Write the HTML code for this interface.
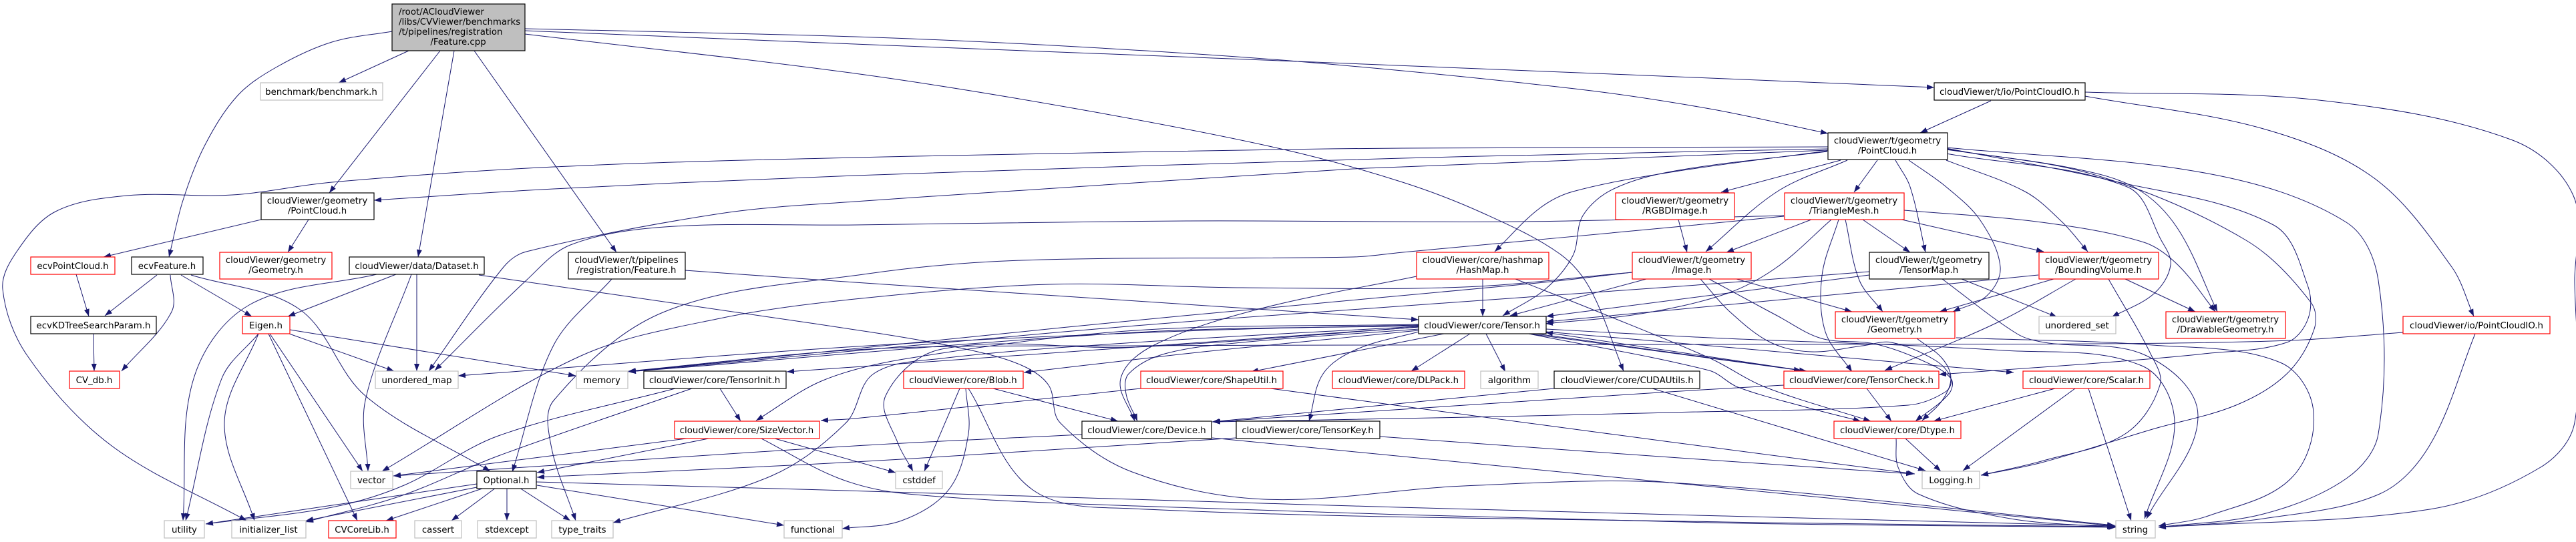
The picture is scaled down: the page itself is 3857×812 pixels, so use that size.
<!DOCTYPE html>
<html><head><meta charset="utf-8"><style>
html,body{margin:0;padding:0;background:#fff}
svg{display:block}
text{font-family:"DejaVu Sans",sans-serif;font-size:13.33px;fill:#000;text-anchor:middle}
rect{fill:#fff;stroke-width:1.2}
.k{stroke:#000}.r{stroke:#f00}.g{stroke:#bfbfbf}
</style></head><body>
<svg xmlns="http://www.w3.org/2000/svg" width="3857" height="812" viewBox="0 0 3857 812">
<defs><marker id="a" markerUnits="userSpaceOnUse" markerWidth="13" markerHeight="10" refX="11" refY="4" orient="auto"><path d="M0,0L11,4L0,8z" fill="#191970"/></marker></defs>
<g id="edges" fill="none" stroke="#191970" stroke-width="1" marker-end="url(#a)">
<polyline points="587,47 497,63 415,100 356,143 307,217 274,300 253,385"/>
<polyline points="612,76 507,124"/>
<polyline points="659,76 493,289"/>
<polyline points="680,76 626,385"/>
<polyline points="710,76 923,378"/>
<polyline points="786,43 1280,55 1612,70 1943,92 2358,133 2560,163 2737,200"/>
<polyline points="786,46 1280,66 1943,92 2560,117 2896,131"/>
<polyline points="786,51 1280,110 1612,163 1918,223 2100,273 2222,320 2335,380 2381,433 2431,556"/>
<polyline points="391,329 155,385"/>
<polyline points="462,329 431,378"/>
<polyline points="2737,220 2100,222 1918,224 1280,236 829,250 497,273 348,292 190,293 83,317 25,377 4,433 41,533 166,667 369,780"/>
<polyline points="2737,223 2100,237 1280,263 829,283 560,300"/>
<polyline points="2737,225 2100,250 2026,253 1280,302 1078,320 788,377 754,400 642,556"/>
<polyline points="2671,323 2275,332 1777,331 1280,337 995,340 854,367 788,420 651,555"/>
<polyline points="2671,324 2508,340 2100,378 2026,385 1529,390 1300,410 995,467 829,600 825,667 862,780"/>
<polyline points="2736,226 2508,257 2355,287 2304,313 2238,377"/>
<polyline points="2736,227 2508,256 2416,283 2370,323 2355,383 2314,433 2250,473"/>
<polyline points="2756,240 2577,288"/>
<polyline points="2766,240 2661,287 2554,377"/>
<polyline points="2811,240 2776,288"/>
<polyline points="2838,240 2860,280 2883,378"/>
<polyline points="2858,240 2914,280 2965,330 2995,400 2975,443 2924,467"/>
<polyline points="2914,240 3032,287 3088,333 3126,377"/>
<polyline points="2914,230 3185,280 3236,360 3250,397 3225,440 3162,475"/>
<polyline points="2914,224 3108,253 3200,283 3261,343 3320,467"/>
<polyline points="2914,222 3159,270 3404,337 3455,427 3456,477 3424,513 3300,530 3153,543 2903,561"/>
<polyline points="2914,221 3306,260 3513,333 3561,420 3561,650 3513,717 3389,770 3232,790"/>
<polyline points="2914,223 3140,263 3363,360 3460,453 3465,493 3424,560 3348,607 3223,643 3057,693 2966,712"/>
<polyline points="2712,329 2585,378"/>
<polyline points="2742,329 2661,400 2585,440 2457,470 2314,485"/>
<polyline points="2753,329 2728,413 2733,497 2773,557"/>
<polyline points="2763,329 2784,420 2819,467"/>
<polyline points="2789,329 2860,378"/>
<polyline points="2843,328 3060,377"/>
<polyline points="2851,315 3057,333 3210,363 3261,397 3317,467"/>
<polyline points="2465,418 2261,473"/>
<polyline points="2600,418 2773,467"/>
<polyline points="2546,418 2590,467 2651,513 2712,527 2789,518 2832,513 2898,540 2921,567 2913,587 2857,607 2500,618 2200,625 1816,632"/>
<polyline points="2559,418 2661,473 2727,507 2806,515 2878,540 2921,567 2918,590 2868,631"/>
<polyline points="2443,408 2312,423 1700,480 941,557"/>
<polyline points="2444,408 2192,430 1860,431 1570,426 1280,448 1078,477 870,533 572,706"/>
<polyline points="2799,407 2500,430 1700,488 941,557"/>
<polyline points="2799,412 2315,474"/>
<polyline points="3052,412 2900,427 2315,482"/>
<polyline points="3075,418 2904,467"/>
<polyline points="3108,418 2991,483 2822,555"/>
<polyline points="3182,418 3287,467"/>
<polyline points="3157,418 3220,530 3234,577 3182,650 3060,690 2966,712"/>
<polyline points="2937,418 3080,475"/>
<polyline points="2908,418 3020,500 3061,513 3214,533 3291,623 3214,777"/>
<polyline points="2929,506 3223,517 3414,543 3464,617 3430,717 3306,773 3232,788"/>
<polyline points="2981,151 2875,199"/>
<polyline points="3122,138 3472,150 3762,210 3853,293 3855,420 3855,633 3804,700 3638,763 3232,790"/>
<polyline points="3122,144 3389,193 3555,267 3671,400 3704,474"/>
<polyline points="3706,500 3638,667 3563,740 3389,777 3232,790"/>
<polyline points="3598,498 3430,510 3140,515 2560,516 1700,518 1300,523 941,556"/>
<polyline points="2853,657 2906,706"/>
<polyline points="2839,657 2842,700 2872,740 3010,777 3166,790"/>
<polyline points="2795,582 2832,631"/>
<polyline points="2671,577 2500,587 1815,632"/>
<polyline points="2289,500 2697,555"/>
<polyline points="2300,500 2705,556"/>
<polyline points="2712,557 2314,498"/>
<polyline points="2315,493 2560,506 3000,525 3207,548 3256,633 3211,777"/>
<polyline points="2315,497 2560,518 3015,558"/>
<polyline points="2269,418 2400,470 2561,537 2643,580 2801,631"/>
<polyline points="2289,500 2559,555 2602,580 2704,610 2786,631"/>
<polyline points="2474,582 2883,705"/>
<polyline points="2327,582 1815,632"/>
<polyline points="2220,418 2220,474"/>
<polyline points="3077,582 2895,631"/>
<polyline points="3107,582 2939,705"/>
<polyline points="3127,582 3191,780"/>
<polyline points="2870,507 2908,537 2921,567 2908,600 2878,630"/>
<polyline points="2513,329 2526,378"/>
<polyline points="1620,651 1280,668 589,713"/>
<polyline points="1815,656 2500,723 3166,788"/>
<polyline points="1902,582 2500,662 2867,710"/>
<polyline points="2066,654 2500,685 2865,710"/>
<polyline points="1851,656 1280,692 804,715"/>
<polyline points="1708,582 1280,627 1229,630"/>
<polyline points="1028,657 589,713"/>
<polyline points="1061,657 804,708"/>
<polyline points="1160,657 1341,708"/>
<polyline points="1140,657 1257,717 1359,740 1700,758 2560,783 3168,790"/>
<polyline points="1078,582 1109,631"/>
<polyline points="1036,582 746,683 600,743 458,782"/>
<polyline points="1011,582 746,653 605,727 497,760 308,785"/>
<polyline points="714,725 308,785"/>
<polyline points="714,730 458,780"/>
<polyline points="725,731 578,780"/>
<polyline points="742,731 676,780"/>
<polyline points="759,731 759,780"/>
<polyline points="778,731 854,780"/>
<polyline points="804,727 1174,787"/>
<polyline points="803,722 1300,736 2026,758 2580,773 3168,788"/>
<polyline points="1446,582 1450,650 1421,733 1350,780 1261,792"/>
<polyline points="1437,582 1384,706"/>
<polyline points="1487,582 1674,631"/>
<polyline points="1450,582 1545,733 1695,762 2580,782 3168,789"/>
<polyline points="2124,490 1700,520 1410,523 1326,593 1344,663 1367,706"/>
<polyline points="2124,486 1700,495 1359,537 1232,570 1132,630"/>
<polyline points="2124,489 1700,513 1410,537 1308,560 1267,633 1155,713 918,783"/>
<polyline points="2124,487 1800,495 1300,518 686,563"/>
<polyline points="2124,488 1700,498 941,557"/>
<polyline points="2124,490 1700,520 1178,557"/>
<polyline points="2124,495 1802,527 1533,558"/>
<polyline points="2124,497 2032,523 1981,560 1960,631"/>
<polyline points="2124,493 1860,513 1744,530 1690,560 1686,590 1703,631"/>
<polyline points="2121,414 1885,463 1728,517 1678,567 1699,631"/>
<polyline points="2162,500 1873,557"/>
<polyline points="2201,500 2113,556"/>
<polyline points="2225,500 2254,557"/>
<polyline points="916,418 829,517 767,707"/>
<polyline points="1026,405 1280,423 2124,479"/>
<polyline points="593,411 431,474"/>
<polyline points="624,411 624,556"/>
<polyline points="616,411 547,600 551,706"/>
<polyline points="564,411 373,457 290,567 274,780"/>
<polyline points="717,412 1300,497 1446,523 1529,547 1570,577 1587,633 1695,707 1893,748 2192,728 2500,723 3166,787"/>
<polyline points="235,412 157,473"/>
<polyline points="271,412 377,474"/>
<polyline points="255,412 257,467 182,556"/>
<polyline points="286,412 448,463 547,593 734,706"/>
<polyline points="114,411 133,474"/>
<polyline points="140,500 141,556"/>
<polyline points="433,500 590,556"/>
<polyline points="434,494 862,563"/>
<polyline points="404,500 543,706"/>
<polyline points="402,500 535,780"/>
<polyline points="387,500 332,567 278,780"/>
<polyline points="387,500 336,633 381,780"/>
</g>
<rect class="k" x="587" y="6" width="199" height="70" style="fill:#bfbfbf"/>
<text x="597" y="22" style="text-anchor:start">/root/ACloudViewer</text><text x="597" y="37" style="text-anchor:start">/libs/CVViewer/benchmarks</text><text x="597" y="52" style="text-anchor:start">/t/pipelines/registration</text><text x="686" y="67">/Feature.cpp</text>
<rect class="g" x="390" y="124" width="183" height="26"/><text x="481" y="142">benchmark/benchmark.h</text>
<rect class="k" x="391" y="289" width="169" height="40"/><text x="475" y="305">cloudViewer/geometry</text><text x="475" y="320">/PointCloud.h</text>
<rect class="r" x="46" y="385" width="126" height="26"/><text x="109" y="403">ecvPointCloud.h</text>
<rect class="k" x="197" y="385" width="107" height="26"/><text x="250" y="403">ecvFeature.h</text>
<rect class="r" x="329" y="378" width="168" height="40"/><text x="413" y="394">cloudViewer/geometry</text><text x="413" y="409">/Geometry.h</text>
<rect class="k" x="523" y="385" width="202" height="26"/><text x="624" y="403">cloudViewer/data/Dataset.h</text>
<rect class="k" x="851" y="378" width="175" height="40"/><text x="938" y="394">cloudViewer/t/pipelines</text><text x="938" y="409">/registration/Feature.h</text>
<rect class="r" x="2121" y="378" width="198" height="40"/><text x="2220" y="394">cloudViewer/core/hashmap</text><text x="2220" y="409">/HashMap.h</text>
<rect class="r" x="2419" y="289" width="178" height="40"/><text x="2508" y="305">cloudViewer/t/geometry</text><text x="2508" y="320">/RGBDImage.h</text>
<rect class="r" x="2444" y="378" width="178" height="40"/><text x="2533" y="394">cloudViewer/t/geometry</text><text x="2533" y="409">/Image.h</text>
<rect class="k" x="2896" y="124" width="226" height="26"/><text x="3009" y="142">cloudViewer/t/io/PointCloudIO.h</text>
<rect class="k" x="2737" y="199" width="179" height="40"/><text x="2826" y="215">cloudViewer/t/geometry</text><text x="2826" y="230">/PointCloud.h</text>
<rect class="r" x="2672" y="289" width="179" height="40"/><text x="2761" y="305">cloudViewer/t/geometry</text><text x="2761" y="320">/TriangleMesh.h</text>
<rect class="k" x="2799" y="378" width="179" height="40"/><text x="2888" y="394">cloudViewer/t/geometry</text><text x="2888" y="409">/TensorMap.h</text>
<rect class="r" x="3053" y="378" width="179" height="40"/><text x="3142" y="394">cloudViewer/t/geometry</text><text x="3142" y="409">/BoundingVolume.h</text>
<rect class="r" x="2748" y="467" width="179" height="40"/><text x="2837" y="483">cloudViewer/t/geometry</text><text x="2837" y="498">/Geometry.h</text>
<rect class="g" x="3053" y="474" width="115" height="26"/><text x="3110" y="492">unordered_set</text>
<rect class="r" x="3243" y="467" width="179" height="40"/><text x="3332" y="483">cloudViewer/t/geometry</text><text x="3332" y="498">/DrawableGeometry.h</text>
<rect class="r" x="3598" y="474" width="220" height="26"/><text x="3708" y="492">cloudViewer/io/PointCloudIO.h</text>
<rect class="r" x="2671" y="556" width="232" height="26"/><text x="2787" y="574">cloudViewer/core/TensorCheck.h</text>
<rect class="r" x="3029" y="556" width="190" height="26"/><text x="3124" y="574">cloudViewer/core/Scalar.h</text>
<rect class="r" x="2746" y="631" width="190" height="26"/><text x="2841" y="649">cloudViewer/core/Dtype.h</text>
<rect class="g" x="2878" y="706" width="86" height="26"/><text x="2921" y="724">Logging.h</text>
<rect class="g" x="3168" y="780" width="59" height="26"/><text x="3197" y="798">string</text>
<rect class="k" x="2124" y="474" width="191" height="26"/><text x="2219" y="492">cloudViewer/core/Tensor.h</text>
<rect class="r" x="1353" y="556" width="179" height="26"/><text x="1442" y="574">cloudViewer/core/Blob.h</text>
<rect class="r" x="1708" y="556" width="213" height="26"/><text x="1814" y="574">cloudViewer/core/ShapeUtil.h</text>
<rect class="r" x="1995" y="556" width="198" height="26"/><text x="2094" y="574">cloudViewer/core/DLPack.h</text>
<rect class="g" x="2217" y="556" width="86" height="26"/><text x="2260" y="574">algorithm</text>
<rect class="k" x="2327" y="556" width="218" height="26"/><text x="2436" y="574">cloudViewer/core/CUDAUtils.h</text>
<rect class="k" x="1620" y="631" width="194" height="26"/><text x="1717" y="649">cloudViewer/core/Device.h</text>
<rect class="k" x="1851" y="631" width="215" height="26"/><text x="1958" y="649">cloudViewer/core/TensorKey.h</text>
<rect class="g" x="1341" y="706" width="70" height="26"/><text x="1376" y="724">cstddef</text>
<rect class="k" x="46" y="474" width="188" height="26"/><text x="140" y="492">ecvKDTreeSearchParam.h</text>
<rect class="r" x="104" y="556" width="75" height="26"/><text x="141" y="574">CV_db.h</text>
<rect class="r" x="363" y="474" width="71" height="26"/><text x="398" y="492">Eigen.h</text>
<rect class="g" x="562" y="556" width="124" height="26"/><text x="624" y="574">unordered_map</text>
<rect class="g" x="863" y="556" width="77" height="26"/><text x="901" y="574">memory</text>
<rect class="k" x="964" y="556" width="213" height="26"/><text x="1070" y="574">cloudViewer/core/TensorInit.h</text>
<rect class="r" x="1010" y="631" width="217" height="26"/><text x="1118" y="649">cloudViewer/core/SizeVector.h</text>
<rect class="g" x="525" y="706" width="63" height="26"/><text x="556" y="724">vector</text>
<rect class="k" x="714" y="706" width="89" height="26"/><text x="758" y="724">Optional.h</text>
<rect class="g" x="246" y="780" width="60" height="26"/><text x="276" y="798">utility</text>
<rect class="g" x="347" y="780" width="111" height="26"/><text x="402" y="798">initializer_list</text>
<rect class="r" x="492" y="780" width="101" height="26"/><text x="542" y="798">CVCoreLib.h</text>
<rect class="g" x="621" y="780" width="70" height="26"/><text x="656" y="798">cassert</text>
<rect class="g" x="715" y="780" width="88" height="26"/><text x="759" y="798">stdexcept</text>
<rect class="g" x="826" y="780" width="92" height="26"/><text x="872" y="798">type_traits</text>
<rect class="g" x="1174" y="780" width="87" height="26"/><text x="1217" y="798">functional</text>
</svg>
<script>
document.querySelectorAll('#edges polyline').forEach(function(l){
var n=l.getAttribute('points').trim().split(/\s+/).map(function(s){return s.split(',').map(Number)});
if(n.length<3)return;
function T(i){var a=n[Math.max(i-1,0)],b=n[Math.min(i+1,n.length-1)],x=b[0]-a[0],y=b[1]-a[1],d=Math.hypot(x,y)||1;return[x/d,y/d]}
var s='M'+n[0].join(',');
for(var i=0;i<n.length-1;i++){var p=n[i],q=n[i+1],d=Math.hypot(q[0]-p[0],q[1]-p[1])/3,t=T(i),u=T(i+1);
s+='C'+(p[0]+t[0]*d)+','+(p[1]+t[1]*d)+' '+(q[0]-u[0]*d)+','+(q[1]-u[1]*d)+' '+q[0]+','+q[1]}
var e=document.createElementNS('http://www.w3.org/2000/svg','path');e.setAttribute('d',s);l.parentNode.replaceChild(e,l)});
</script>
</body></html>
